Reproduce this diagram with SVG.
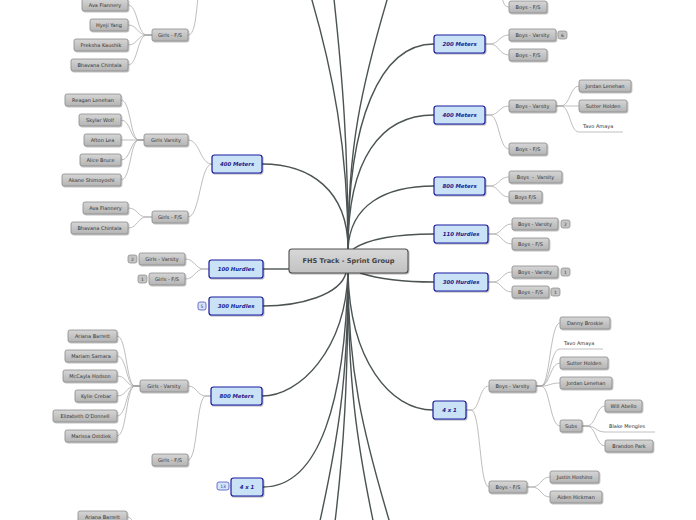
<svg xmlns="http://www.w3.org/2000/svg" width="696" height="520" viewBox="0 0 696 520">
<defs>
<linearGradient id="gg" x1="0" y1="0" x2="0" y2="1"><stop offset="0" stop-color="#d6d6d6"/><stop offset="1" stop-color="#b4b4b4"/></linearGradient>
<linearGradient id="cg" x1="0" y1="0" x2="0" y2="1"><stop offset="0" stop-color="#d8d8d8"/><stop offset="1" stop-color="#c2c2c2"/></linearGradient>
<filter id="sh" x="-20%" y="-30%" width="140%" height="170%"><feDropShadow dx="0.8" dy="1" stdDeviation="0.6" flood-color="#000" flood-opacity="0.3"/></filter>
<style>
.g{fill:url(#gg);stroke:#8a8a8a;stroke-width:0.8;filter:url(#sh)}
.gt{font-family:"DejaVu Sans",sans-serif;font-size:5px;fill:#333;text-anchor:middle}
.pt{font-family:"DejaVu Sans",sans-serif;font-size:5px;fill:#333}
.ul{stroke:#b0b0b0;stroke-width:0.8;fill:none}
.b{fill:#c9e2f6;stroke:#1c1ca0;stroke-width:1.2;filter:url(#sh)}
.bt{font-family:"DejaVu Sans",sans-serif;font-size:5.4px;font-weight:bold;font-style:italic;fill:#1c1c8c;text-anchor:middle}
.c{fill:url(#cg);stroke:#505050;stroke-width:1.1;filter:url(#sh)}
.ct{font-family:"DejaVu Sans",sans-serif;font-size:6.6px;font-weight:bold;fill:#444;text-anchor:middle}
.m{fill:none;stroke:#4b5353;stroke-width:1.4}
.s{fill:none;stroke:#a2a2a2;stroke-width:0.7}
.bd{fill:#c4c4c4;stroke:#888;stroke-width:0.7}
.bb{fill:#d4e6f8;stroke:#3a3ac0;stroke-width:0.7}
.bdt{font-family:"DejaVu Sans",sans-serif;font-size:4.5px;fill:#333;text-anchor:middle}
.bbt{font-family:"DejaVu Sans",sans-serif;font-size:4.5px;fill:#2a2a9c;text-anchor:middle}
</style>
</defs>

<g id="connectors">
<!-- main from center top -->
<path class="m" d="M348,249 C348,190 310,164 262,164"/>
<path class="m" d="M348,249 C348,120 380,44 434,44"/>
<path class="m" d="M348,249 C348,160 380,115 434,115"/>
<path class="m" d="M348,249 C350,205 385,186 434,186"/>
<path class="m" d="M353,249 C370,238 400,234 434,234"/>
<path class="m" d="M348,249 C348,150 333,70 309,-10"/>
<path class="m" d="M348,249 C348,150 343,80 333,-10"/>
<path class="m" d="M348,249 C348,150 360,90 390,-10"/>
<!-- main from center bottom -->
<path class="m" d="M263,269 H289"/>
<path class="m" d="M346,273 C340,295 300,306 263,306"/>
<path class="m" d="M348,273 C345,350 300,396 262,396"/>
<path class="m" d="M348,273 C345,400 320,487 263,487"/>
<path class="m" d="M360,273 C385,281 410,282 434,282"/>
<path class="m" d="M348,273 C350,360 390,410 433,410"/>
<path class="m" d="M348,273 C348,380 338,440 318,530"/>
<path class="m" d="M348,273 C348,380 344,450 334,530"/>
<path class="m" d="M348,273 C348,380 356,440 375,530"/>
<path class="m" d="M348,273 C348,370 362,430 392,530"/>

<!-- left sub connectors -->
<path class="s" d="M188,35 C196,35 196,10 199,-10"/>
<path class="s" d="M152,35 H147 C137,35 138,5 128,5"/>
<path class="s" d="M152,35 H147 C137,35 138,25 128,25"/>
<path class="s" d="M152,35 H147 C137,35 138,45 128,45"/>
<path class="s" d="M152,35 H147 C137,35 138,65 128,65"/>
<path class="s" d="M212,164 C200,164 200,140 188,140"/>
<path class="s" d="M212,164 C200,164 200,217 188,217"/>
<path class="s" d="M144,140 H139 C130,140 131,100 121,100"/>
<path class="s" d="M144,140 H139 C130,140 131,120 121,120"/>
<path class="s" d="M144,140 H121"/>
<path class="s" d="M144,140 H139 C130,140 131,160 121,160"/>
<path class="s" d="M144,140 H139 C130,140 131,180 121,180"/>
<path class="s" d="M152,217 H147 C137,217 138,208 128,208"/>
<path class="s" d="M152,217 H147 C137,217 138,228 128,228"/>
<path class="s" d="M209,269 H204 C195,269 195,259 185,259"/>
<path class="s" d="M209,269 H204 C195,269 195,279 185,279"/>
<path class="s" d="M211,396 H206 C197,396 197,386 188,386"/>
<path class="s" d="M211,396 H206 C196,396 198,460 188,460"/>
<path class="s" d="M140,386 H135 C126,386 127,336 117,336"/>
<path class="s" d="M140,386 H135 C126,386 127,356 117,356"/>
<path class="s" d="M140,386 H135 C126,386 127,376 117,376"/>
<path class="s" d="M140,386 H135 C126,386 127,396 117,396"/>
<path class="s" d="M140,386 H135 C126,386 127,416 117,416"/>
<path class="s" d="M140,386 H135 C126,386 127,436 117,436"/>
<path class="s" d="M127,517 C133,517 133,525 136,530"/>

<!-- right sub connectors -->
<path class="s" d="M509,7 C503,7 503,0 500,-10"/>
<path class="s" d="M485,44 H490 C499,44 499,35 509,35"/>
<path class="s" d="M485,44 H490 C499,44 499,55 509,55"/>
<path class="s" d="M485,115 H490 C499,115 499,106 509,106"/>
<path class="s" d="M485,115 H490 C499,115 499,149 509,149"/>
<path class="s" d="M556,106 H561 C570,106 570,86 579,86"/>
<path class="s" d="M556,106 H579"/>
<path class="s" d="M556,106 H561 C570,106 570,132 579,132"/>
<path class="ul" d="M579,132 H623"/>
<path class="s" d="M485,186 H490 C499,186 499,177 509,177"/>
<path class="s" d="M485,186 H490 C499,186 499,197 509,197"/>
<path class="s" d="M488,234 H493 C502,234 502,224 512,224"/>
<path class="s" d="M488,234 H493 C502,234 502,244 512,244"/>
<path class="s" d="M488,282 H493 C502,282 502,272 512,272"/>
<path class="s" d="M488,282 H493 C502,282 502,292 512,292"/>
<path class="s" d="M466,410 H471 C480,410 479,386 489,386"/>
<path class="s" d="M466,410 H471 C481,410 479,487 489,487"/>
<path class="s" d="M536,386 H541 C550,386 550,323 560,323"/>
<path class="s" d="M536,386 H541 C550,386 550,349 560,349"/>
<path class="ul" d="M560,349 H603"/>
<path class="s" d="M536,386 H541 C550,386 550,363 560,363"/>
<path class="s" d="M536,386 H541 C550,386 550,383 560,383"/>
<path class="s" d="M536,386 H541 C550,386 550,426 560,426"/>
<path class="s" d="M582,426 H587 C596,426 596,406 605,406"/>
<path class="s" d="M582,426 H587 C596,426 596,432 605,432"/>
<path class="ul" d="M605,432 H655"/>
<path class="s" d="M582,426 H587 C596,426 596,446 605,446"/>
<path class="s" d="M527,487 H532 C541,487 541,477 550,477"/>
<path class="s" d="M527,487 H532 C541,487 541,497 550,497"/>
</g>

<g id="center"><rect class="c" x="289" y="249" width="119" height="24" rx="3"/><text class="ct" x="348.5" y="263.4">FHS Track - Sprint Group</text></g>

<!-- blue left -->
<g id="b400L"><rect class="b" x="212" y="155" width="50" height="18" rx="2.5"/><text class="bt" x="237" y="166">400 Meters</text></g>
<g id="b100HL"><rect class="b" x="209" y="260" width="54" height="18" rx="2.5"/><text class="bt" x="236" y="271">100 Hurdles</text></g>
<g id="b300HL"><rect class="b" x="209" y="297" width="54" height="18" rx="2.5"/><text class="bt" x="236" y="308">300 Hurdles</text><rect class="bb" x="198" y="302" width="8" height="8" rx="2"/><text class="bbt" x="202" y="307.6">5</text></g>
<g id="b800L"><rect class="b" x="211" y="387" width="51" height="18" rx="2.5"/><text class="bt" x="236.5" y="398">800 Meters</text></g>
<g id="b4x1L"><rect class="b" x="231" y="478" width="32" height="18" rx="2.5"/><text class="bt" x="247" y="489">4 x 1</text><rect class="bb" x="217" y="482" width="12" height="8" rx="2"/><text class="bbt" x="223" y="487.6">13</text></g>

<!-- blue right -->
<g id="b200R"><rect class="b" x="434" y="35" width="51" height="18" rx="2.5"/><text class="bt" x="459.5" y="46">200 Meters</text></g>
<g id="b400R"><rect class="b" x="434" y="106" width="51" height="18" rx="2.5"/><text class="bt" x="459.5" y="117">400 Meters</text></g>
<g id="b800R"><rect class="b" x="434" y="177" width="51" height="18" rx="2.5"/><text class="bt" x="459.5" y="188">800 Meters</text></g>
<g id="b110HR"><rect class="b" x="434" y="225" width="54" height="18" rx="2.5"/><text class="bt" x="461" y="236">110 Hurdles</text></g>
<g id="b300HR"><rect class="b" x="434" y="273" width="54" height="18" rx="2.5"/><text class="bt" x="461" y="284">300 Hurdles</text></g>
<g id="b4x1R"><rect class="b" x="433" y="401" width="33" height="18" rx="2.5"/><text class="bt" x="449.5" y="412">4 x 1</text></g>

<!-- gray left -->
<g id="l1"><rect class="g" x="82" y="-1" width="46" height="12" rx="2"/><text class="gt" x="105" y="6.8">Ava Flannery</text></g>
<g id="l2"><rect class="g" x="90" y="19" width="38" height="12" rx="2"/><text class="gt" x="109" y="26.8">Hyeji Yang</text></g>
<g id="l3"><rect class="g" x="74" y="39" width="54" height="12" rx="2"/><text class="gt" x="101" y="46.8">Preksha Kaushik</text></g>
<g id="l4"><rect class="g" x="71" y="59" width="57" height="12" rx="2"/><text class="gt" x="99.5" y="66.8">Bhavana Chintala</text></g>
<g id="l5"><rect class="g" x="152" y="29" width="36" height="12" rx="2"/><text class="gt" x="170" y="36.8">Girls - F/S</text></g>
<g id="l6"><rect class="g" x="65" y="94" width="56" height="12" rx="2"/><text class="gt" x="93" y="101.8">Reagan Lenehan</text></g>
<g id="l7"><rect class="g" x="79" y="114" width="42" height="12" rx="2"/><text class="gt" x="100" y="121.8">Skylar Wolf</text></g>
<g id="l8"><rect class="g" x="84" y="134" width="37" height="12" rx="2"/><text class="gt" x="102.5" y="141.8">Afton Lea</text></g>
<g id="l9"><rect class="g" x="80" y="154" width="41" height="12" rx="2"/><text class="gt" x="100.5" y="161.8">Alice Bruce</text></g>
<g id="l10"><rect class="g" x="62" y="174" width="59" height="12" rx="2"/><text class="gt" x="91.5" y="181.8">Akane Shimoyoshi</text></g>
<g id="l11"><rect class="g" x="144" y="134" width="44" height="12" rx="2"/><text class="gt" x="166" y="141.8">Girls Varsity</text></g>
<g id="l12"><rect class="g" x="83" y="202" width="45" height="12" rx="2"/><text class="gt" x="105.5" y="209.8">Ava Flannery</text></g>
<g id="l13"><rect class="g" x="71" y="222" width="57" height="12" rx="2"/><text class="gt" x="99.5" y="229.8">Bhavana Chintala</text></g>
<g id="l14"><rect class="g" x="152" y="211" width="36" height="12" rx="2"/><text class="gt" x="170" y="218.8">Girls - F/S</text></g>
<g id="l15"><rect class="g" x="139" y="253" width="46" height="12" rx="2"/><text class="gt" x="162" y="260.8">Girls - Varsity</text><rect class="bd" x="128" y="255" width="9" height="8" rx="2"/><text class="bdt" x="132.5" y="260.6">2</text></g>
<g id="l16"><rect class="g" x="149" y="273" width="36" height="12" rx="2"/><text class="gt" x="167" y="280.8">Girls - F/S</text><rect class="bd" x="138" y="275" width="9" height="8" rx="2"/><text class="bdt" x="142.5" y="280.6">1</text></g>
<g id="l17"><rect class="g" x="68" y="330" width="49" height="12" rx="2"/><text class="gt" x="92.5" y="337.8">Ariana Barrett</text></g>
<g id="l18"><rect class="g" x="65" y="350" width="52" height="12" rx="2"/><text class="gt" x="91" y="357.8">Mariam Samara</text></g>
<g id="l19"><rect class="g" x="63" y="370" width="54" height="12" rx="2"/><text class="gt" x="90" y="377.8">McCayla Hodson</text></g>
<g id="l20"><rect class="g" x="75" y="390" width="42" height="12" rx="2"/><text class="gt" x="96" y="397.8">Kylie Crebar</text></g>
<g id="l21"><rect class="g" x="53" y="410" width="64" height="12" rx="2"/><text class="gt" x="85" y="417.8">Elizabeth O'Donnell</text></g>
<g id="l22"><rect class="g" x="65" y="430" width="52" height="12" rx="2"/><text class="gt" x="91" y="437.8">Marissa Ostdiek</text></g>
<g id="l23"><rect class="g" x="140" y="380" width="48" height="12" rx="2"/><text class="gt" x="164" y="387.8">Girls - Varsity</text></g>
<g id="l24"><rect class="g" x="152" y="454" width="36" height="12" rx="2"/><text class="gt" x="170" y="461.8">Girls - F/S</text></g>
<g id="l25"><rect class="g" x="78" y="511" width="49" height="12" rx="2"/><text class="gt" x="102.5" y="518.8">Ariana Barrett</text></g>

<!-- gray right -->
<g id="r1"><rect class="g" x="509" y="1" width="38" height="12" rx="2"/><text class="gt" x="528" y="8.8">Boys - F/S</text></g>
<g id="r2"><rect class="g" x="509" y="29" width="47" height="12" rx="2"/><text class="gt" x="532.5" y="36.8">Boys - Varsity</text><rect class="bd" x="558" y="31" width="9" height="8" rx="2"/><text class="bdt" x="562.5" y="36.6">6</text></g>
<g id="r3"><rect class="g" x="509" y="49" width="38" height="12" rx="2"/><text class="gt" x="528" y="56.8">Boys - F/S</text></g>
<g id="r4"><rect class="g" x="509" y="100" width="47" height="12" rx="2"/><text class="gt" x="532.5" y="107.8">Boys - Varsity</text></g>
<g id="r5"><rect class="g" x="579" y="80" width="52" height="12" rx="2"/><text class="gt" x="605" y="87.8">Jordan Lenehan</text></g>
<g id="r6"><rect class="g" x="579" y="100" width="48" height="12" rx="2"/><text class="gt" x="603" y="107.8">Sutter Holden</text></g>
<g id="r7"><text class="pt" x="583" y="128">Tavo Amaya</text></g>
<g id="r8"><rect class="g" x="509" y="143" width="38" height="12" rx="2"/><text class="gt" x="528" y="150.8">Boys - F/S</text></g>
<g id="r9"><rect class="g" x="509" y="171" width="53" height="12" rx="2"/><text class="gt" x="535.5" y="178.8" xml:space="preserve">Boys  -  Varsity</text></g>
<g id="r10"><rect class="g" x="509" y="191" width="33" height="12" rx="2"/><text class="gt" x="525.5" y="198.8">Boys F/S</text></g>
<g id="r11"><rect class="g" x="512" y="218" width="46" height="12" rx="2"/><text class="gt" x="535" y="225.8">Boys - Varsity</text><rect class="bd" x="561" y="220" width="9" height="8" rx="2"/><text class="bdt" x="565.5" y="225.6">2</text></g>
<g id="r12"><rect class="g" x="512" y="238" width="37" height="12" rx="2"/><text class="gt" x="530.5" y="245.8">Boys - F/S</text></g>
<g id="r13"><rect class="g" x="512" y="266" width="46" height="12" rx="2"/><text class="gt" x="535" y="273.8">Boys - Varsity</text><rect class="bd" x="561" y="268" width="9" height="8" rx="2"/><text class="bdt" x="565.5" y="273.6">1</text></g>
<g id="r14"><rect class="g" x="512" y="286" width="37" height="12" rx="2"/><text class="gt" x="530.5" y="293.8">Boys - F/S</text><rect class="bd" x="551" y="288" width="9" height="8" rx="2"/><text class="bdt" x="555.5" y="293.6">1</text></g>
<g id="r15"><rect class="g" x="489" y="380" width="47" height="12" rx="2"/><text class="gt" x="512.5" y="387.8">Boys - Varsity</text></g>
<g id="r16"><rect class="g" x="560" y="317" width="50" height="12" rx="2"/><text class="gt" x="585" y="324.8">Danny Broskie</text></g>
<g id="r17"><text class="pt" x="564" y="345">Tavo Amaya</text></g>
<g id="r18"><rect class="g" x="560" y="357" width="48" height="12" rx="2"/><text class="gt" x="584" y="364.8">Sutter Holden</text></g>
<g id="r19"><rect class="g" x="560" y="377" width="52" height="12" rx="2"/><text class="gt" x="586" y="384.8">Jordan Lenehan</text></g>
<g id="r20"><rect class="g" x="560" y="420" width="22" height="12" rx="2"/><text class="gt" x="571" y="427.8">Subs</text></g>
<g id="r21"><rect class="g" x="605" y="400" width="37" height="12" rx="2"/><text class="gt" x="623.5" y="407.8">Will Abello</text></g>
<g id="r22"><text class="pt" x="609" y="428">Blake Mengles</text></g>
<g id="r23"><rect class="g" x="605" y="440" width="48" height="12" rx="2"/><text class="gt" x="629" y="447.8">Brandon Park</text></g>
<g id="r24"><rect class="g" x="489" y="481" width="38" height="12" rx="2"/><text class="gt" x="508" y="488.8">Boys - F/S</text></g>
<g id="r25"><rect class="g" x="550" y="471" width="49" height="12" rx="2"/><text class="gt" x="574.5" y="478.8">Justin Hoshino</text></g>
<g id="r26"><rect class="g" x="550" y="491" width="52" height="12" rx="2"/><text class="gt" x="576" y="498.8">Aiden Hickman</text></g>
</svg>
